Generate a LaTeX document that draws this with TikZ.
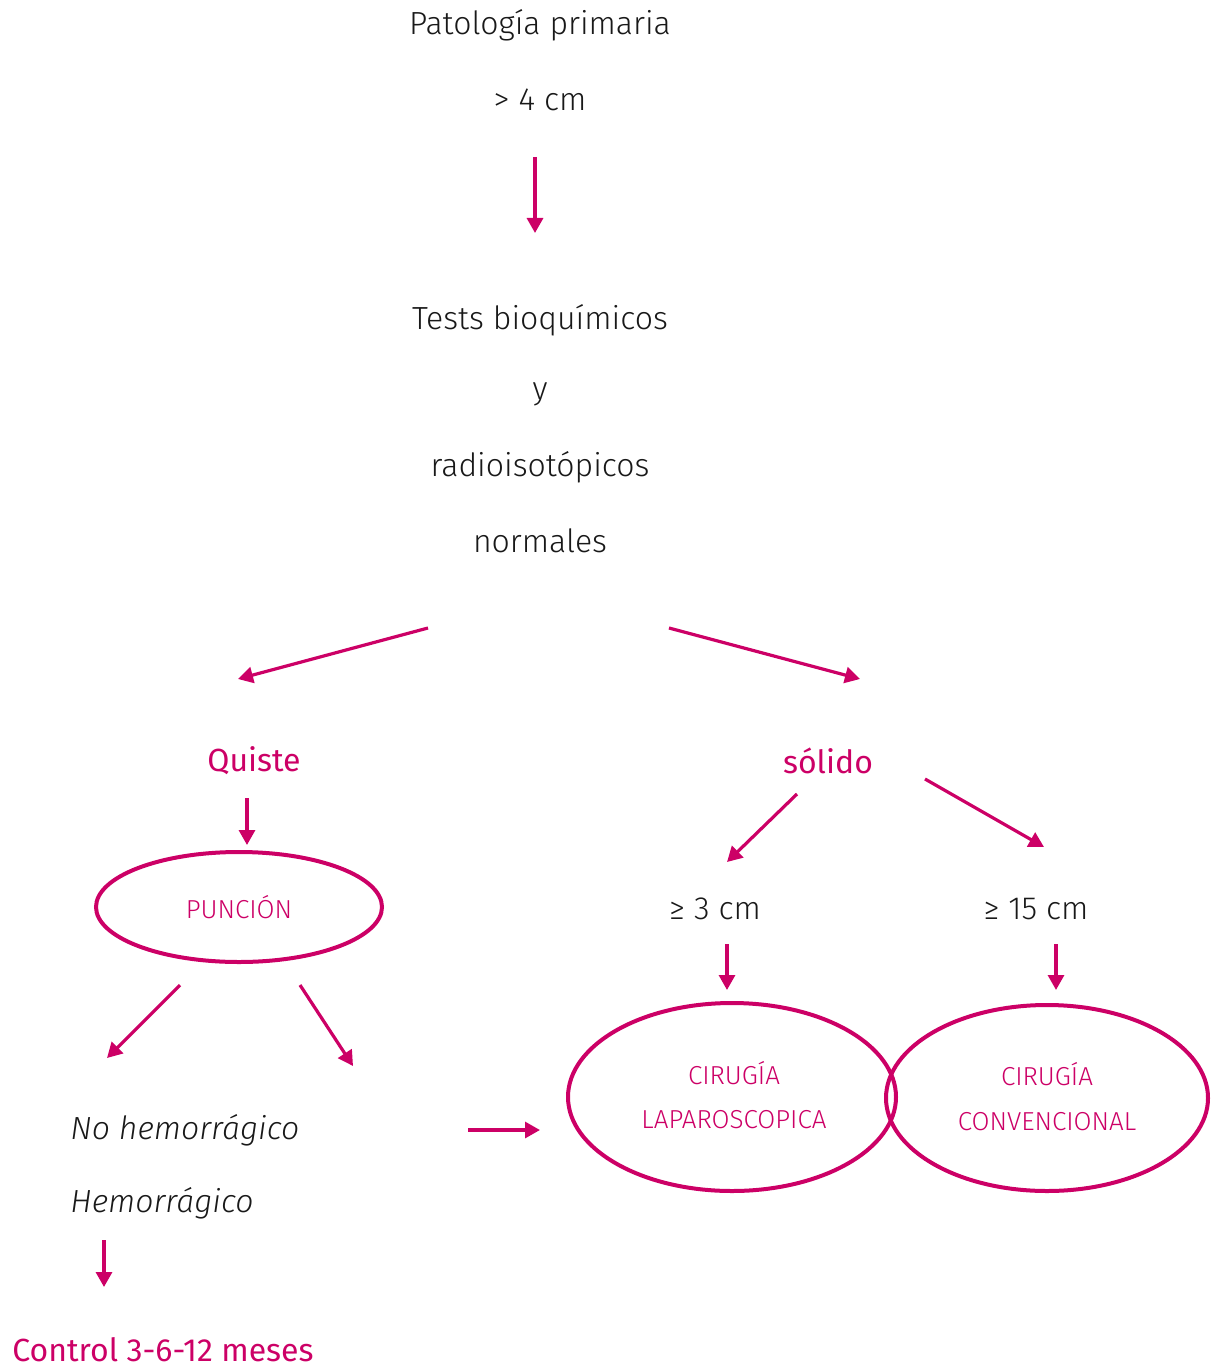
\documentclass[tikz,border=0pt]{standalone}
\usepackage{fontspec}
\setmainfont{Fira Sans}[UprightFont={* Light}, ItalicFont={* Light Italic}, BoldFont={*}]
\newfontfamily\firareg{Fira Sans}
\usetikzlibrary{arrows.meta, positioning, shapes.geometric, calc}
\definecolor{magenta}{RGB}{204,0,102}
\definecolor{ink}{RGB}{25,25,25}

\begin{document}
\begin{tikzpicture}[x=0.5pt, y=-0.5pt,
    every node/.style={font=\fontsize{16}{19}\selectfont, text=ink, inner sep=0pt},
    pink/.style={font=\firareg\fontsize{16}{19}\selectfont, text=magenta},
    oval/.style={ellipse, draw=magenta, line width=2pt, text=magenta, font=\fontsize{13}{16}\selectfont},
    arr/.style={draw=magenta, line width=1.6pt, -{Triangle[width=8pt, length=7.5pt]}}]
    \useasboundingbox (0,0) rectangle (1221,1369);

    \node (pat) at (540,25) {Patología primaria};
    \node (cm4) at (540,100) {> 4 cm};
    \node (tests) at (540,320) {Tests bioquímicos};
    \node (yy) at (540,394) {y};
    \node (radio) at (540,467) {radioisotópicos};
    \node (norm) at (540,541) {normales};

    \node[pink] (quiste) at (254,761) {Quiste};
    \node[pink] (solido) at (828,761) {sólido};
    \node[oval, minimum width=143pt, minimum height=55pt] (puncion) at (239,907) {PUNCIÓN};
    \node (cm3) at (715,909) {≥ 3 cm};
    \node (cm15) at (1036,909) {≥ 15 cm};
    \node[oval, minimum width=164pt, minimum height=94pt] (lap) at (732,1097) {};
    \node[oval, minimum width=161pt, minimum height=93pt] (conv) at (1047,1098) {};
    \node[text=magenta, font=\fontsize{13}{16}\selectfont] (lap1) at (734,1073) {CIRUGÍA};
    \node[text=magenta, font=\fontsize{13}{16}\selectfont] (lap2) at (734,1120) {LAPAROSCOPICA};
    \node[text=magenta, font=\fontsize{13}{16}\selectfont] (conv1) at (1047,1074) {CIRUGÍA};
    \node[text=magenta, font=\fontsize{13}{16}\selectfont] (conv2) at (1047,1122) {CONVENCIONAL};
    \node[anchor=west, font=\itshape\fontsize{16}{19}\selectfont] (nohem) at (70,1130) {No hemorrágico};
    \node[anchor=west, font=\itshape\fontsize{16}{19}\selectfont] (hem) at (70,1203) {Hemorrágico};
    \node[pink, anchor=west] (control) at (12,1350) {Control 3-6-12 meses};

    % arrow ends
    \coordinate (a1) at (535,157);  \coordinate (b1) at (535,233);
    \coordinate (a2) at (428,628);  \coordinate (b2) at (238,679);
    \coordinate (a3) at (669,628);  \coordinate (b3) at (860,679);
    \coordinate (a4) at (247,798);  \coordinate (b4) at (247,845);
    \coordinate (a5) at (180,985);  \coordinate (b5) at (107,1058);
    \coordinate (a6) at (300,985);  \coordinate (b6) at (353,1066);
    \coordinate (a7) at (797,794);  \coordinate (b7) at (727,862);
    \coordinate (a8) at (925,779);  \coordinate (b8) at (1044,847);
    \coordinate (a9) at (727,944);  \coordinate (b9) at (727,990);
    \coordinate (a10) at (1056,944); \coordinate (b10) at (1056,990);
    \coordinate (a11) at (468,1130); \coordinate (b11) at (540,1130);
    \coordinate (a12) at (104,1240); \coordinate (b12) at (104,1287);

    \foreach \i in {1,...,12}
      \draw[arr] (a\i) -- (b\i);
\end{tikzpicture}
\end{document}
